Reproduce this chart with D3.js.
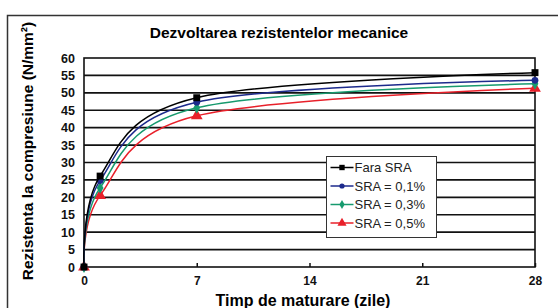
<!DOCTYPE html>
<html>
<head>
<meta charset="utf-8">
<script src="https://cdn.jsdelivr.net/npm/d3@7"></script>
<style>
  body { margin: 0; background: #fff; }
  text { font-family: "Liberation Sans", Arial, sans-serif; }
</style>
</head>
<body>
<svg width="558" height="308"></svg>
<script>
(function () {
  'use strict';

  const days = [0, 1, 7, 28];
  const faraSRA = [0, 26.1, 48.6, 55.8];
  const sra01 = [0, 24.8, 47.3, 53.6];
  const sra03 = [0, 22.7, 45.7, 52.6];
  const sra05 = [0, 20.5, 43.4, 51.3];
  const seriesNames = ['Fara SRA', 'SRA = 0,1%', 'SRA = 0,3%', 'SRA = 0,5%'];
  const xTicks = [0, 7, 14, 21, 28];
  const yTicks = [0, 5, 10, 15, 20, 25, 30, 35, 40, 45, 50, 55, 60];

  const svg = d3.select('svg');

  const margin = { left: 84, top: 58, right: 23, bottom: 41 };
  const width = +svg.attr('width');
  const height = +svg.attr('height');
  const innerW = width - margin.left - margin.right;
  const innerH = height - margin.top - margin.bottom;

  // outer frame
  svg.append('rect')
    .attr('x', 7.5).attr('y', 15.5)
    .attr('width', 600).attr('height', 400)
    .attr('fill', 'none')
    .attr('stroke', '#333')
    .attr('stroke-width', 1.5);

  svg.append('text')
    .attr('x', 279).attr('y', 38)
    .attr('text-anchor', 'middle')
    .attr('font-size', 15.5)
    .attr('font-weight', 'bold')
    .text('Dezvoltarea rezistentelor mecanice');

  svg.append('text')
    .attr('transform', 'translate(33, 151) rotate(-90)')
    .attr('text-anchor', 'middle')
    .attr('font-size', 15.5)
    .attr('font-weight', 'bold')
    .text('Rezistenta la compresiune  (N/mm²)');

  svg.append('text')
    .attr('x', 303).attr('y', 306)
    .attr('text-anchor', 'middle')
    .attr('font-size', 16)
    .attr('font-weight', 'bold')
    .text('Timp de maturare (zile)');

  const g = svg.append('g')
    .attr('transform', `translate(${margin.left}, ${margin.top})`);

  const x = d3.scaleLinear().domain([0, 28]).range([0, innerW]);
  const y = d3.scaleLinear().domain([0, 60]).range([innerH, 0]);

  // horizontal grid
  g.selectAll('.grid').data(yTicks.filter(d => d > 0 && d < 60))
    .enter().append('line')
      .attr('x1', 0).attr('x2', innerW)
      .attr('y1', d => y(d)).attr('y2', d => y(d))
      .attr('stroke', '#111')
      .attr('stroke-width', 1.6);

  g.append('rect')
    .attr('width', innerW).attr('height', innerH)
    .attr('fill', 'none')
    .attr('stroke', '#111')
    .attr('stroke-width', 1.6);

  // y axis labels
  const yAxis = g.append('g')
    .call(d3.axisLeft(y).tickValues(yTicks).tickSize(0).tickPadding(9));
  yAxis.select('.domain').remove();
  yAxis.selectAll('text')
    .attr('font-size', 12.5).attr('font-weight', 'bold')
    .attr('fill', '#111')
    .style('font-family', '"Liberation Sans", Arial, sans-serif');

  // x axis: short ticks pointing up
  const xAxis = g.append('g')
    .attr('transform', `translate(0, ${innerH})`)
    .call(d3.axisBottom(x).tickValues(xTicks).tickSize(-4).tickPadding(9));
  xAxis.select('.domain').remove();
  xAxis.selectAll('line').attr('stroke', '#111').attr('stroke-width', 1.5);
  xAxis.selectAll('text')
    .attr('font-size', 12).attr('font-weight', 'bold')
    .attr('fill', '#111')
    .style('font-family', '"Liberation Sans", Arial, sans-serif');

  const colors = ['#000000', '#1c2a8c', '#179a6e', '#e8202a'];
  const symbols = [d3.symbolSquare, d3.symbolCircle, d3.symbolDiamond, d3.symbolTriangle];
  const symSizes = [48, 36, 40, 60];
  const allSeries = [faraSRA, sra01, sra03, sra05];

  const line = d3.line()
    .x((d, i) => x(days[i]))
    .y(d => y(d))
    .curve(d3.curveCardinal.tension(0));

  // draw in reverse so black sits on top
  allSeries.slice().reverse().forEach((vals, k) => {
    const i = allSeries.length - 1 - k;
    g.append('path')
      .datum(vals)
      .attr('d', line)
      .attr('fill', 'none')
      .attr('stroke', colors[i])
      .attr('stroke-width', 1.5);
    g.selectAll(null).data(vals).enter().append('path')
      .attr('transform', (d, j) => `translate(${x(days[j])}, ${y(d)})`)
      .attr('d', d3.symbol().type(symbols[i]).size(symSizes[i]))
      .attr('fill', colors[i]);
  });

  // legend
  const legend = svg.append('g').attr('transform', 'translate(326.5, 156.5)');
  legend.append('rect')
    .attr('width', 110).attr('height', 81)
    .attr('fill', '#fff')
    .attr('stroke', '#333')
    .attr('stroke-width', 1);

  seriesNames.forEach((name, i) => {
    const row = legend.append('g').attr('transform', `translate(0, ${11 + i * 18.5})`);
    row.append('line')
      .attr('x1', 4).attr('x2', 27)
      .attr('stroke', colors[i]).attr('stroke-width', 1.5);
    row.append('path')
      .attr('transform', 'translate(15.5, 0)')
      .attr('d', d3.symbol().type(symbols[i]).size(symSizes[i] * 0.6))
      .attr('fill', colors[i]);
    row.append('text')
      .attr('x', 28).attr('y', 4.5)
      .attr('font-size', 13)
      .attr('fill', '#222')
      .text(name);
  });
}());
</script>
</body>
</html>
